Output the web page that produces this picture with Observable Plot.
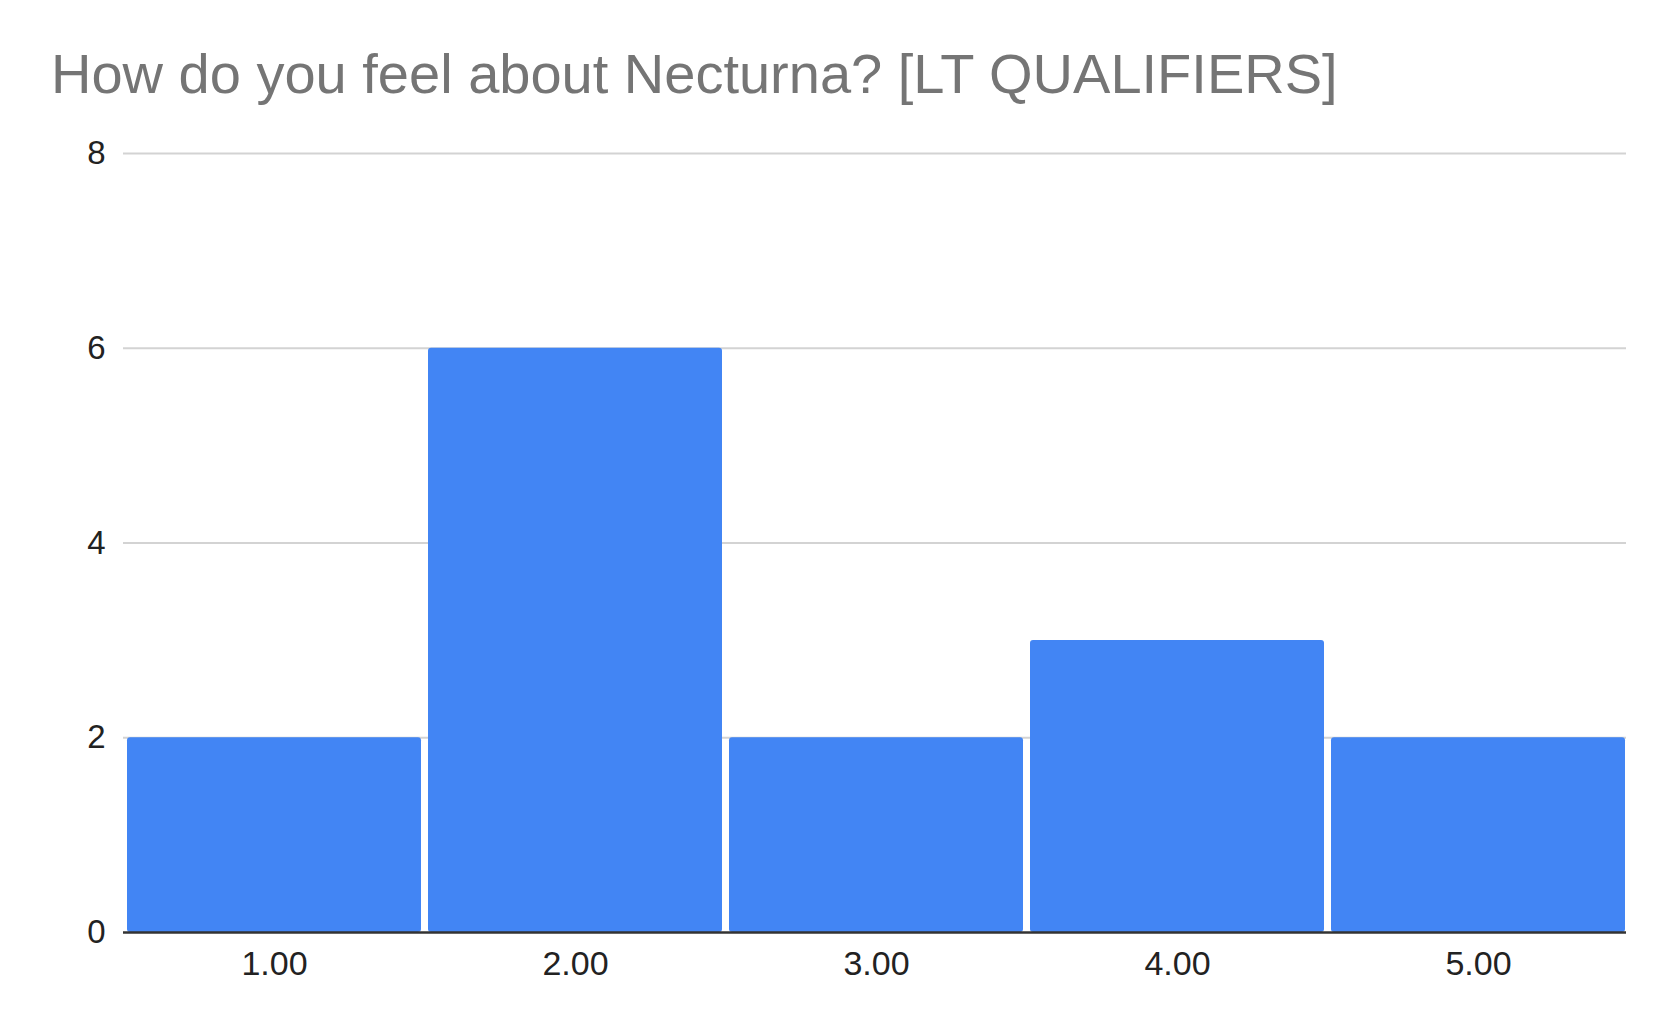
<!DOCTYPE html>
<html><head><meta charset="utf-8">
<script src="https://cdn.jsdelivr.net/npm/d3@7"></script>
<script src="https://cdn.jsdelivr.net/npm/@observablehq/plot@0.6"></script>
<style>
body{margin:0;background:#fff;width:1676px;height:1022px;overflow:hidden;position:relative;font-family:"Liberation Sans",Arial,sans-serif}
#title{position:absolute;left:51px;top:46px;font-size:56px;line-height:56px;color:#757575;white-space:nowrap}
#chart{position:absolute;left:0;top:110px}
</style></head><body>
<div id="title">How do you feel about Necturna? [LT QUALIFIERS]</div>
<div id="chart"></div>
<script>
const categories = ["1.00", "2.00", "3.00", "4.00", "5.00"];
const counts = [2, 6, 2, 3, 2];
const yTicks = [0, 2, 4, 6, 8];
const gridTicks = [2, 4, 6, 8];
const data = categories.map((c, i) => ({category: c, count: counts[i]}));

const chart = Plot.plot({
  width: 1676, height: 912,
  marginTop: 43, marginBottom: 90, marginLeft: 123, marginRight: 50,
  style: {fontFamily: '"Liberation Sans", Arial, sans-serif', fontSize: "33px", color: "#222", background: "white"},
  x: {domain: categories, paddingInner: 0.0233, paddingOuter: 0.0083, align: 0.8, label: null},
  y: {domain: [0, 8], label: null},
  marks: [
    Plot.ruleY(gridTicks, {stroke: "#d3d3d3", strokeWidth: 2}),
    Plot.barY(data, {x: "category", y: "count", fill: "#4285f4", rx: 3}),
    Plot.ruleY([0], {stroke: "#333", strokeWidth: 2.5}),
    Plot.axisX({tickSize: 0, tickPadding: 18, fontSize: 34}),
    Plot.axisY({ticks: yTicks, tickSize: 0, tickPadding: 18, fontSize: 33})
  ]
});
document.getElementById("chart").appendChild(chart);
</script>
</body></html>
